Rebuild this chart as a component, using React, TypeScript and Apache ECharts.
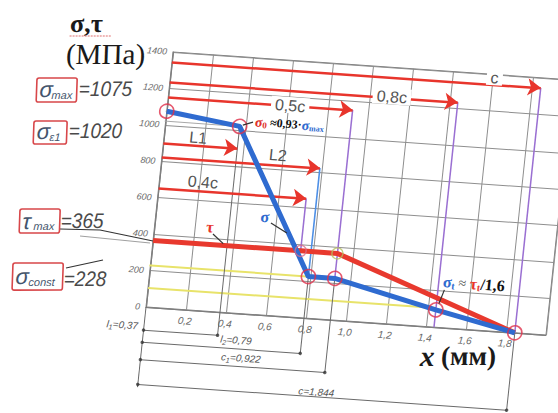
import React, { useEffect, useRef } from 'react';
import * as echarts from 'echarts';

// ---------- data ----------
const xMin = 0, xMax = 2, xStep = 0.2;
const yMin = 0, yMax = 1400, yStep = 200;

const sigmaX = [0, 0.37, 0.79, 0.922, 1.44, 1.844];
const sigmaY = [1075, 1020, 228, 228, 95, 0];
const tauX = [0, 0.738, 0.922, 1.44, 1.844];
const tauY = [365, 365, 365, 160, 0];
const tauMarkX = [0.738, 0.922];
const tauMarkY = [365, 365];

const arrowLabels = ['c', '0,8c', '0,5c', 'L1', 'L2', '0,4c'];
const arrowLevels = [1345, 1235, 1153, 900, 824, 653];
const arrowEnds = [1.844, 1.44, 0.922, 0.37, 0.79, 0.738];

const dimNames = ['l', 'l', 'c', 'c'];
const dimSubs = ['1', '2', '1', ''];
const dimValues = ['0,37', '0,79', '0,922', '1,844'];
const dimEnds = [0.37, 0.79, 0.922, 1.844];
const dimLevels = [-127, -194, -289, -425];

const sigmaConstLevel = 228;
const sigmaTLevel = 105;
const sigmaMaxLevel = 1075;
const sigma0Level = 1020;

// ---------- layout (annotation anchors, in data units) ----------
const arrowLabelPos = [[1.61, 1385], [1.11, 1242], [0.61, 1155], [0.17, 945], [0.575, 880], [0.217, 705]];
const arrowLabelBg = [true, true, true, false, false, false];
const dimLabelPos = [[-0.03, -106], [0.464, -146], [0.498, -242], [0.89, -398]];

// sheared scan: frame -> page affine transform
const SY = 0.07, SX = 0.1059, TE = 32.51, TF = -10.22;
const DET = 1 + SX * SY;
const ROT = Math.atan(SY);
const P = (px: number, py: number) => {
  const dx = px - TE, dy = py - TF;
  return [(dx + SX * dy) / DET, (-SY * dx + dy) / DET];
};

export default function App() {
  const ref = useRef<HTMLDivElement>(null);
  useEffect(() => {
    const chart = echarts.init(ref.current!, null, { renderer: 'svg' });
    const seg = (pts: number[][], color: string, width: number, z = 2, extra: any = {}) => ({
      type: 'line', data: pts, symbol: 'none', clip: false, silent: true,
      lineStyle: { color, width }, z, animation: false, ...extra,
    });
    const purple = '#9a6fd2', gray = '#6a6a6a';
    const series: any[] = [
      seg([[-0.37, sigmaConstLevel], [0.922, sigmaConstLevel]], '#e8e36a', 2, 1),
      seg([[0, sigmaTLevel], [1.44, sigmaTLevel]], '#e8e36a', 2, 1),
      seg([[-0.38, sigmaMaxLevel], [0, sigmaMaxLevel]], '#8f8f8f', 1, 1),
      seg([[-0.37, sigma0Level], [0.37, sigma0Level]], '#a8a8a8', 1, 1),
      // vertical guides
      seg([[0.37, sigma0Level], [0.37, dimLevels[0]]], gray, 1, 2),
      seg([[0.79, arrowLevels[4]], [0.79, sigmaConstLevel]], '#4d8fe6', 1.6, 2),
      seg([[0.79, sigmaConstLevel], [0.79, dimLevels[1]]], gray, 1, 2),
      seg([[0.738, arrowLevels[5]], [0.738, 365]], purple, 1.5, 2),
      seg([[0.922, arrowLevels[2]], [0.922, sigmaConstLevel]], purple, 1.5, 2),
      seg([[0.922, sigmaConstLevel], [0.922, dimLevels[2]]], gray, 1, 2),
      seg([[1.44, arrowLevels[1]], [1.44, 0]], purple, 1.5, 2),
      seg([[1.844, arrowLevels[0]], [1.844, 0]], purple, 1.5, 2),
      seg([[1.844, 0], [1.844, dimLevels[3]]], gray, 1, 2),
      seg([[0, 0], [0, dimLevels[3] - 15]], gray, 1, 2),
    ];
    dimEnds.forEach((e, i) => series.push(seg([[0, dimLevels[i]], [e, dimLevels[i]]], gray, 1, 2)));
    series.push({
      type: 'scatter', clip: false, silent: true, symbolSize: 3.5, z: 3,
      itemStyle: { color: '#333' },
      data: dimEnds.flatMap((e, i) => [[0, dimLevels[i]], [e, dimLevels[i]]]),
    });
    series.push({
      type: 'line', data: [], silent: true, z: 3,
      markLine: {
        silent: true, animation: false, symbol: ['none', 'arrow'], symbolSize: 13,
        label: { show: false },
        lineStyle: { color: '#e8352c', width: 2.5, type: 'solid' },
        emphasis: { disabled: true },
        data: arrowLevels.map((y, i) => [{ coord: [0, y] }, { coord: [arrowEnds[i], y] }]),
      },
    });
    series.push(seg(tauX.map((x, i) => [x, tauY[i]]), '#e8392e', 5, 4));
    series.push(seg(sigmaX.map((x, i) => [x, sigmaY[i]]), '#2f6bd0', 5, 5));
    series.push({
      type: 'scatter', clip: false, silent: true, symbolSize: 14, z: 6,
      itemStyle: { color: 'rgba(255,255,255,0)', borderColor: '#e0304a', borderWidth: 1.6 },
      data: sigmaX.map((x, i) => [x, sigmaY[i]]),
    });
    series.push({
      type: 'scatter', clip: false, silent: true, symbolSize: 11, z: 6,
      itemStyle: { color: 'rgba(255,255,255,0)', borderColor: '#d86a8a', borderWidth: 1.4 },
      data: [[tauMarkX[0], tauMarkY[0]]],
    });
    series.push({
      type: 'scatter', clip: false, silent: true, symbolSize: 11, z: 6,
      itemStyle: { color: 'rgba(255,255,255,0)', borderColor: '#b8c060', borderWidth: 1.4 },
      data: [[tauMarkX[1], tauMarkY[1]]],
    });

    chart.setOption({
      animation: false,
      backgroundColor: 'transparent',
      grid: { left: 146, top: 52, width: 400, height: 255, show: true, borderColor: '#7c7c7c', borderWidth: 1, backgroundColor: 'transparent' },
      xAxis: {
        type: 'value', min: xMin, max: xMax, interval: xStep,
        axisLine: { show: true, lineStyle: { color: '#7c7c7c' } },
        axisTick: { show: false },
        splitLine: { show: true, lineStyle: { color: '#8e8e8e', width: 1 } },
        axisLabel: {
          fontSize: 10, fontStyle: 'italic', color: '#6a6a6a', margin: 6, fontFamily: 'Liberation Sans',
          formatter: (v: number) => {
            const r = Math.round(v * 10) / 10;
            if (r === 0 || r === 2) return '';
            return r.toFixed(1).replace('.', ',');
          },
        },
      },
      yAxis: {
        type: 'value', min: yMin, max: yMax, interval: yStep,
        axisLine: { show: true, lineStyle: { color: '#7c7c7c' } },
        axisTick: { show: false },
        splitLine: { show: true, lineStyle: { color: '#8e8e8e', width: 1 } },
        axisLabel: {
          fontSize: 9, fontStyle: 'italic', color: '#6a6a6a', margin: 6, fontFamily: 'Liberation Sans',
          formatter: (v: number) => String(Math.round(v)),
        },
      },
      series,
    });

    const D = (x: number, y: number) => chart.convertToPixel({ gridIndex: 0 }, [x, y]) as number[];
    const T = (x: number, y: number, text: string, font: string, fill: string, align = 'left', extra: any = {}) => ({
      type: 'text', x, y, z: 50,
      style: { text, font, fill, align, textAlign: align, verticalAlign: 'middle', textVerticalAlign: 'middle', ...extra },
    });
    const pg = (px: number, py: number, children: any[]) => {
      const [x, y] = P(px, py);
      return { type: 'group', x, y, rotation: ROT, z: 50, children };
    };
    const pline = (pts: number[][], stroke: string, lineWidth: number) => ({
      type: 'polyline', z: 45, shape: { points: pts.map(p => P(p[0], p[1])) }, style: { stroke, lineWidth, fill: 'none' },
    });
    const dline = (a: number[], b: number[], stroke: string, lineWidth: number) => {
      const p1 = D(a[0], a[1]), p2 = D(b[0], b[1]);
      return { type: 'line', z: 45, shape: { x1: p1[0], y1: p1[1], x2: p2[0], y2: p2[1] }, style: { stroke, lineWidth } };
    };
    const boxRect = (w: number, h: number) => ({
      type: 'rect', z: 50, shape: { x: 0, y: 0, width: w, height: h, r: 2 },
      style: { fill: '#fff', stroke: '#d8474a', lineWidth: 1.6 },
    });
    const symCol = '#44546c', valCol = '#4a4a4a';
    const symFont = 'italic 22px "Liberation Sans"';
    const subFont = 'italic 11px "Liberation Sans"';
    const valFont = 'italic 21px "Liberation Sans"';
    const serif = '"Liberation Serif"';

    const els: any[] = [];
    // titles
    els.push(pg(70, 24, [
      T(0, 0, 'σ,τ', `bold 26px ${serif}`, '#1a1a1a'),
      { type: 'line', z: 50, shape: { x1: 0, y1: 12, x2: 42, y2: 12 }, style: { stroke: '#e07070', lineWidth: 1, lineDash: [2, 1] } },
    ]));
    els.push(pg(66, 54, [T(0, 0, '(МПа)', `29px ${serif}`, '#1a1a1a')]));
    els.push(pg(420, 356, [{
      type: 'text', x: 0, y: 0, z: 50,
      style: {
        text: '{i|x} {n|(мм)}', fill: '#1a1a1a', font: `bold 26px ${serif}`, verticalAlign: 'middle', textVerticalAlign: 'middle',
        rich: { i: { font: `bold italic 29px ${serif}`, fill: '#1a1a1a' }, n: { font: `bold 27px ${serif}`, fill: '#1a1a1a' } },
      },
    }]));
    // left boxes
    els.push(pg(37, 78, [
      boxRect(40, 24), T(3, 11, 'σ', symFont, symCol), T(15, 17, 'max', subFont, symCol),
      { ...T(42, 11, '=1075', valFont, valCol), scaleX: 0.9 },
    ]));
    els.push(pg(34, 121, [
      boxRect(33, 23), T(3, 10, 'σ', symFont, symCol), T(16, 16, 'ε1', subFont, symCol),
      { ...T(35, 10, '=1020', valFont, valCol), scaleX: 0.9 },
    ]));
    els.push(pg(20, 209, [
      boxRect(40, 24), T(3, 12, 'τ', symFont, symCol), T(14, 17, 'max', subFont, symCol),
      { ...T(41, 12, '=365', valFont, valCol), scaleX: 0.9 },
    ]));
    els.push(pg(13, 263, [
      boxRect(50, 27), T(3, 13, 'σ', symFont, symCol), T(16, 19, 'const', subFont, symCol),
      { ...T(51, 16, '=228', valFont, valCol), scaleX: 0.9 },
    ]));
    // leaders in page space
    els.push(pline([[60, 229], [100, 230], [153, 241]], '#333', 1.2));
    els.push(pline([[80, 236], [150, 243]], '#a0a0a0', 1));
    els.push(pline([[66, 268], [103, 260]], '#333', 1.2));

    // arrow labels
    arrowLabels.forEach((t, i) => {
      const p = D(arrowLabelPos[i][0], arrowLabelPos[i][1]);
      els.push(T(p[0], p[1], t, '16px "Liberation Sans"', '#555', 'center',
        arrowLabelBg[i] ? { backgroundColor: '#fff', padding: [0, 4] } : {}));
    });
    // dimension labels
    dimNames.forEach((n, i) => {
      const p = D(dimLabelPos[i][0], dimLabelPos[i][1]);
      els.push({
        type: 'text', x: p[0], y: p[1], z: 50,
        style: {
          text: `{i|${n}}${dimSubs[i] ? `{s|${dimSubs[i]}}` : ''}{i|=${dimValues[i]}}`,
          fill: '#555', font: 'italic 10px "Liberation Sans"',
          align: i === 0 ? 'right' : 'center', textAlign: i === 0 ? 'right' : 'center',
          verticalAlign: 'middle', textVerticalAlign: 'middle',
          rich: {
            i: { font: 'italic 10px "Liberation Sans"', fill: '#555' },
            s: { font: 'italic 7px "Liberation Sans"', fill: '#555', padding: [6, 0, 0, 0] },
          },
        },
      });
    });
    // tau / sigma labels
    {
      const p = D(0.276, 462);
      els.push(T(p[0], p[1], 'τ', `bold 16px ${serif}`, '#e8352c', 'center'));
      els.push(dline([0.294, 423], [0.35, 375], '#333', 1.2));
      const q = D(0.543, 538);
      els.push(T(q[0], q[1], 'σ', `bold 16px ${serif}`, '#2f6bd0', 'center'));
      els.push(dline([0.576, 505], [0.66, 457], '#333', 1.2));
    }
    // sigma0 annotation
    {
      const p = D(0.444, 1052);
      els.push({
        type: 'text', x: p[0], y: p[1], z: 50,
        style: {
          text: '{r|σ}{rs|0}{k| ≈0,93·}{b|σ}{bs|max}', fill: '#111', font: `bold 12px ${serif}`,
          verticalAlign: 'middle', textVerticalAlign: 'middle',
          rich: {
            r: { font: `bold 14px ${serif}`, fill: '#e0302a' },
            rs: { font: `bold 9px ${serif}`, fill: '#e0302a', padding: [6, 0, 0, 0] },
            k: { font: `bold 12px ${serif}`, fill: '#111' },
            b: { font: `bold 14px ${serif}`, fill: '#2f6bd0' },
            bs: { font: `bold 8px ${serif}`, fill: '#2f6bd0', padding: [6, 0, 0, 0] },
          },
        },
      });
      els.push(dline([0.385, 1028], [0.434, 1048], '#333', 1.2));
    }
    // sigma_t annotation
    {
      const p = D(1.461, 252);
      els.push({
        type: 'text', x: p[0], y: p[1], z: 50,
        style: {
          text: '{b|σ}{bs|t}{g| ≈ }{r|τ}{rs|t}{k|/1,6}', fill: '#111', font: `bold 15px ${serif}`,
          verticalAlign: 'middle', textVerticalAlign: 'middle',
          rich: {
            b: { font: `bold 16px ${serif}`, fill: '#2f6bd0' },
            bs: { font: `bold 10px ${serif}`, fill: '#2f6bd0', padding: [7, 0, 0, 0] },
            g: { font: `14px ${serif}`, fill: '#555' },
            r: { font: `bold 16px ${serif}`, fill: '#e8352c' },
            rs: { font: `bold 10px ${serif}`, fill: '#e8352c', padding: [7, 0, 0, 0] },
            k: { font: `bold 16px ${serif}`, fill: '#111' },
          },
        },
      });
      els.push(dline([1.452, 130], [1.472, 207], '#333', 1.2));
    }

    chart.setOption({ graphic: { elements: els } });
    return () => chart.dispose();
  }, []);

  return (
    <div style={{ position: 'fixed', left: 0, top: 0, width: 558, height: 413, overflow: 'hidden', background: '#fff' }}>
      <div
        ref={ref}
        style={{
          position: 'absolute', left: 0, top: 0, width: 600, height: 440,
          transformOrigin: '0 0', transform: `matrix(1, ${SY}, ${-SX}, 1, ${TE}, ${TF})`,
        }}
      />
    </div>
  );
}
